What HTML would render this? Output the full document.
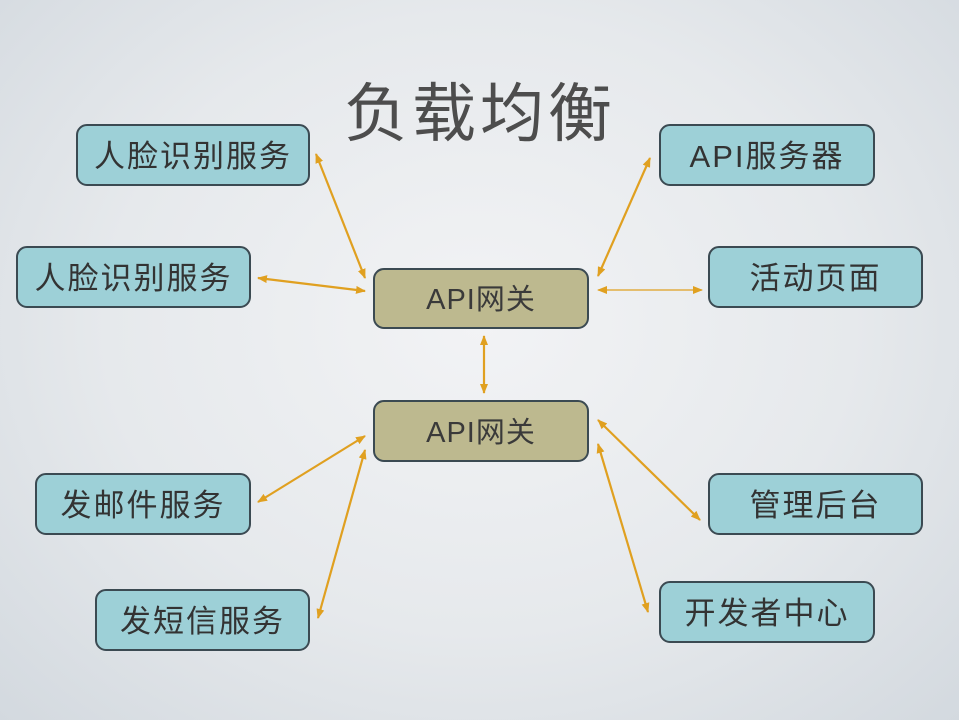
<!DOCTYPE html>
<html><head><meta charset="utf-8"><style>
html,body{margin:0;padding:0;width:959px;height:720px;overflow:hidden}
body{background:radial-gradient(ellipse at 50% 45%,#f2f3f5 0%,#e6e9ec 55%,#d3d9df 100%);font-family:"Liberation Sans","Noto Sans CJK SC",sans-serif;position:relative}
.b{position:absolute;box-sizing:border-box;border:2px solid #3b4a52;border-radius:11px;background:#9dd0d7;color:#333;font-size:31px;display:flex;align-items:center;justify-content:center;letter-spacing:2px;padding-bottom:3px}
.g{background:#bdb98f;color:#3a3a3a;font-size:29px;letter-spacing:1px}
.t{position:absolute;left:330px;top:63px;width:300px;text-align:center;font-size:64px;color:#4d4d4d;letter-spacing:4px;font-family:"Noto Sans CJK SC",sans-serif;font-weight:400}
svg{position:absolute;left:0;top:0}
</style></head><body>
<div class="t">负载均衡</div>
<div class="b" style="left:76px;top:124px;width:234px;height:62px">人脸识别服务</div>
<div class="b" style="left:16px;top:246px;width:235px;height:62px">人脸识别服务</div>
<div class="b" style="left:659px;top:124px;width:216px;height:62px">API服务器</div>
<div class="b" style="left:708px;top:246px;width:215px;height:62px">活动页面</div>
<div class="b g" style="left:373px;top:268px;width:216px;height:61px">API网关</div>
<div class="b g" style="left:373px;top:400px;width:216px;height:62px">API网关</div>
<div class="b" style="left:35px;top:473px;width:216px;height:62px">发邮件服务</div>
<div class="b" style="left:708px;top:473px;width:215px;height:62px">管理后台</div>
<div class="b" style="left:95px;top:589px;width:215px;height:62px">发短信服务</div>
<div class="b" style="left:659px;top:581px;width:216px;height:62px">开发者中心</div>
<svg width="959" height="720">
<defs><marker id="a" markerWidth="10" markerHeight="8" refX="9" refY="4" orient="auto-start-reverse" markerUnits="userSpaceOnUse"><path d="M0,0 L10,4 L0,8 Z" fill="#e0a020"/></marker></defs>
<g stroke="#e0a020" stroke-width="2.2" fill="none" marker-start="url(#a)" marker-end="url(#a)">
<line x1="316" y1="154" x2="365" y2="278"/>
<line x1="258" y1="278" x2="365" y2="291"/>
<line x1="650" y1="158" x2="598" y2="276"/>
<line x1="598" y1="290" x2="702" y2="290" stroke-width="1.3"/>
<line x1="484" y1="336" x2="484" y2="393"/>
<line x1="365" y1="436" x2="258" y2="502"/>
<line x1="365" y1="450" x2="318" y2="618"/>
<line x1="598" y1="420" x2="700" y2="520"/>
<line x1="598" y1="444" x2="648" y2="612"/>
</g></svg>
</body></html>
